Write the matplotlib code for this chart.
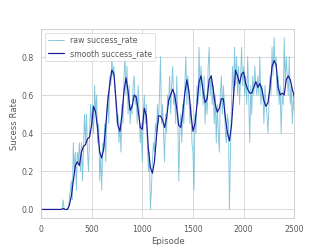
import matplotlib
matplotlib.use("Agg")
import matplotlib.pyplot as plt
import numpy as np
import seaborn as sns

# raw success rate, one value every 10 episodes (0 .. 2500)
raw_success = [
    0, 0, 0, 0, 0, 0, 0, 0, 0, 0,
    0, 0, 0, 0, 0, 0, 0, 0, 0, 0,
    0, 0, 0.05, 0, 0, 0, 0, 0, 0.05, 0.10,
    0.15, 0.05, 0.35, 0.20, 0.30, 0.10, 0.30, 0.25, 0.35, 0.20,
    0.35, 0.15, 0.30, 0.50, 0.35, 0.50, 0.30, 0.20, 0.40, 0.55,
    0.45, 0.55, 0.40, 0.65, 0.50, 0.60, 0.35, 0.45, 0.15, 0.30,
    0.10, 0.35, 0.30, 0.45, 0.25, 0.50, 0.60, 0.45, 0.70, 0.65,
    0.80, 0.70, 0.75, 0.65, 0.55, 0.45, 0.50, 0.35, 0.45, 0.30,
    0.55, 0.45, 0.70, 0.80, 0.60, 0.75, 0.50, 0.65, 0.45, 0.55,
    0.50, 0.65, 0.70, 0.55, 0.60, 0.45, 0.65, 0.50, 0.35, 0.45,
    0.25, 0.50, 0.60, 0.45, 0.55, 0.35, 0.20, 0.30, 0.00, 0.10,
    0.25, 0.35, 0.30, 0.45, 0.40, 0.55, 0.45, 0.60, 0.80, 0.45,
    0.55, 0.40, 0.25, 0.50, 0.40, 0.60, 0.55, 0.70, 0.50, 0.65,
    0.75, 0.55, 0.60, 0.45, 0.70, 0.50, 0.15, 0.40, 0.50, 0.35,
    0.55, 0.45, 0.65, 0.80, 0.55, 0.70, 0.60, 0.45, 0.55, 0.35,
    0.30, 0.10, 0.50, 0.40, 0.65, 0.55, 0.85, 0.60, 0.75, 0.65,
    0.55, 0.70, 0.45, 0.60, 0.50, 0.75, 0.85, 0.60, 0.70, 0.55,
    0.65, 0.45, 0.60, 0.35, 0.55, 0.40, 0.30, 0.60, 0.70, 0.50,
    0.65, 0.55, 0.40, 0.35, 0.50, 0.45, 0.00, 0.30, 0.55, 0.75,
    0.60, 0.85, 0.65, 0.80, 0.60, 0.75, 0.55, 0.70, 0.85, 0.65,
    0.75, 0.60, 0.70, 0.55, 0.80, 0.60, 0.35, 0.65, 0.50, 0.70,
    0.60, 0.75, 0.65, 0.60, 0.70, 0.60, 0.80, 0.55, 0.65, 0.60,
    0.45, 0.65, 0.55, 0.50, 0.40, 0.55, 0.70, 0.60, 0.85, 0.70,
    0.90, 0.75, 0.80, 0.60, 0.70, 0.55, 0.65, 0.40, 0.60, 0.55,
    0.90, 0.65, 0.80, 0.70, 0.60, 0.80, 0.55, 0.65, 0.45, 0.60,
    0.50,
]

# smoothed curve, one value every 20 episodes (0 .. 2500)
smooth_success = [
    0, 0, 0, 0, 0, 0, 0, 0, 0, 0, 0, 0.005, 0, 0,
    0.02, 0.07, 0.15, 0.23, 0.25, 0.23, 0.30, 0.33, 0.34, 0.37,
    0.38, 0.44, 0.54, 0.51, 0.42, 0.30, 0.27, 0.32, 0.44, 0.57,
    0.66, 0.73, 0.71, 0.58, 0.44, 0.41, 0.50, 0.62, 0.69, 0.62,
    0.52, 0.54, 0.60, 0.59, 0.52, 0.43, 0.42, 0.53, 0.49, 0.32,
    0.22, 0.19, 0.25, 0.38, 0.49, 0.49, 0.47, 0.43, 0.48, 0.57,
    0.60, 0.63, 0.60, 0.53, 0.44, 0.43, 0.51, 0.61, 0.68, 0.62,
    0.50, 0.41, 0.45, 0.55, 0.67, 0.70, 0.62, 0.56, 0.58, 0.68,
    0.70, 0.63, 0.55, 0.51, 0.53, 0.58, 0.58, 0.48, 0.40, 0.36,
    0.44, 0.59, 0.73, 0.70, 0.66, 0.71, 0.72, 0.66, 0.63, 0.61,
    0.61, 0.64, 0.67, 0.64, 0.66, 0.63, 0.57, 0.54, 0.56, 0.64,
    0.75, 0.78, 0.76, 0.64, 0.60, 0.61, 0.60, 0.68, 0.70, 0.68,
    0.63, 0.59,
]

raw_episodes = np.linspace(0, 2500, len(raw_success))
smooth_episodes = np.linspace(0, 2500, len(smooth_success))

sns.set_theme(style="whitegrid")
text_grey = "#5a5a5a"
plt.rcParams.update({
    "text.color": text_grey,
    "axes.labelcolor": text_grey,
    "xtick.color": text_grey,
    "ytick.color": text_grey,
})

fig, ax = plt.subplots(figsize=(6.4, 4.8))
ax.plot(raw_episodes, raw_success, color="#5ab4d2", alpha=0.75, linewidth=1.3,
        label="raw success_rate")
ax.plot(smooth_episodes, smooth_success, color="#1c1c98", linewidth=1.7,
        label="smooth success_rate")
ax.set_xlim(0, 2500)
ax.set_xlabel("Episode")
ax.set_ylabel("Sucess Rate")
ax.legend(loc="upper left")

fig.savefig("out.png", dpi=51.1)
